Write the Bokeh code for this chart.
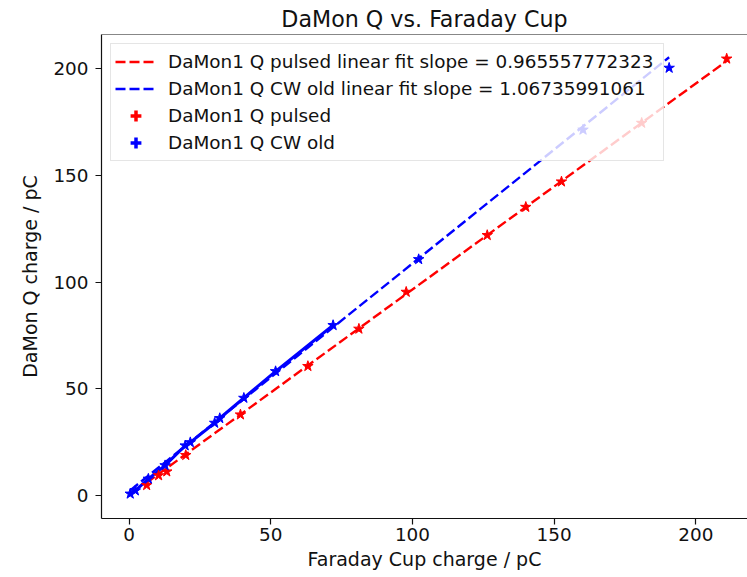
import numpy as np
from bokeh.plotting import figure
from bokeh.models import Legend, LegendItem, Span, FixedTicker
from bokeh.embed import file_html
from bokeh.resources import INLINE

# Faraday cup charge (pC) and DaMon1 Q charge (pC), pulsed beam
pulsed_fc = [6.2, 10.4, 13.3, 20.0, 39.3, 63.1, 81.1, 97.8, 126.4, 140.0, 152.6, 180.9, 210.9]
pulsed_q = [4.8, 9.4, 11.2, 18.9, 37.9, 60.6, 78.1, 95.4, 122.0, 135.2, 147.1, 174.6, 204.7]

# Faraday cup charge (pC) and DaMon1 Q charge (pC), CW beam (old set)
cw_fc = [0.4, 2.2, 6.8, 12.7, 19.8, 21.6, 30.2, 32.0, 40.5, 51.7, 72.0, 102.2, 160.2, 190.6]
cw_q = [0.8, 2.3, 7.8, 14.1, 23.4, 24.9, 34.0, 36.2, 45.7, 58.2, 79.8, 110.7, 171.4, 200.4]
cw_joined = 11  # leading CW points that are joined by a solid line

# linear fit parameters
pulsed_slope = 0.965557772323
pulsed_intercept = 0.0
cw_slope = 1.06735991061
cw_intercept = 2.0

x_ticks = [0, 50, 100, 150, 200]
y_ticks = [0, 50, 100, 150, 200]

FONT = "DejaVu Sans"
TEXT = "#111111"
TICK_SIZE = "18.4px"
LABEL_SIZE = "19px"

p = figure(
    width=747, height=577,
    output_backend="svg", toolbar_location=None,
    x_range=(-9.74, 218.25), y_range=(-10.78, 216.08),
    min_border_left=101, min_border_right=0,
    min_border_top=34, min_border_bottom=59,
    title="DaMon Q vs. Faraday Cup",
)
p.outline_line_color = None
p.xgrid.visible = False
p.ygrid.visible = False
p.background_fill_color = "white"
p.border_fill_color = "white"

p.title.text_font = FONT
p.title.text_font_size = "22.2px"
p.title.text_font_style = "normal"
p.title.text_color = TEXT
p.title.align = "center"
p.title.standoff = 5

p.xaxis.axis_label = "Faraday Cup charge / pC"
p.yaxis.axis_label = "DaMon Q charge / pC"
p.xaxis.ticker = FixedTicker(ticks=x_ticks)
p.yaxis.ticker = FixedTicker(ticks=y_ticks)
for ax in (p.xaxis[0], p.yaxis[0]):
    ax.major_label_text_font = FONT
    ax.major_label_text_font_size = TICK_SIZE
    ax.major_label_text_color = TEXT
    ax.axis_label_text_font = FONT
    ax.axis_label_text_font_size = LABEL_SIZE
    ax.axis_label_text_font_style = "normal"
    ax.axis_label_text_color = TEXT
    ax.axis_line_color = "#111111"
    ax.axis_line_width = 1.2
    ax.major_tick_line_color = "#111111"
    ax.major_tick_line_width = 1.2
    ax.major_tick_in = 0
    ax.major_tick_out = 6
    ax.minor_tick_in = 0
    ax.minor_tick_out = 0
p.xaxis.major_label_standoff = 3
p.xaxis.axis_label_standoff = 4
p.yaxis.major_label_standoff = 7
p.yaxis.axis_label_standoff = 9

# top spine
p.add_layout(Span(location=p.y_range.end, dimension="width",
                  line_color="#111111", line_width=1.2))

# linear fits over each data set
pf = np.array(pulsed_fc)
cf = np.array(cw_fc)
r_fit_p = p.line(pf, pulsed_slope * pf + pulsed_intercept,
                 line_color="red", line_width=2.4, line_dash="10 4")
r_fit_c = p.line(cf, cw_slope * cf + cw_intercept,
                 line_color="blue", line_width=2.4, line_dash="10 4")

# CW data joined for the low-charge range
p.line(cw_fc[:cw_joined], cw_q[:cw_joined], line_color="blue", line_width=3)

# data points
p.scatter(pulsed_fc, pulsed_q, marker="star", size=11,
          fill_color="red", line_color="red", line_width=1)
p.scatter(cw_fc, cw_q, marker="star", size=11,
          fill_color="blue", line_color="blue", line_width=1)

# legend handles for the measured sets (not drawn in the data area)
r_key_p = p.scatter(x=[np.nan], y=[np.nan], marker="cross", size=18,
                    line_color="red", line_width=3.5)
r_key_c = p.scatter(x=[np.nan], y=[np.nan], marker="cross", size=18,
                    line_color="blue", line_width=3.5)

legend = Legend(
    items=[
        LegendItem(label="DaMon1 Q pulsed linear fit slope = %s" % pulsed_slope, renderers=[r_fit_p]),
        LegendItem(label="DaMon1 Q CW old linear fit slope = %s" % cw_slope, renderers=[r_fit_c]),
        LegendItem(label="DaMon1 Q pulsed", renderers=[r_key_p]),
        LegendItem(label="DaMon1 Q CW old", renderers=[r_key_c]),
    ],
    location="top_left",
    margin=9,
    padding=4,
    spacing=0,
    glyph_width=41,
    glyph_height=27,
    label_height=27,
    label_width=491,
    label_standoff=12,
    label_text_font=FONT,
    label_text_font_size=TICK_SIZE,
    label_text_color=TEXT,
    border_line_color="#cccccc",
    border_line_width=1,
    background_fill_color="white",
    background_fill_alpha=0.8,
)
p.add_layout(legend)

open("out.html", "w").write(file_html(p, INLINE))
